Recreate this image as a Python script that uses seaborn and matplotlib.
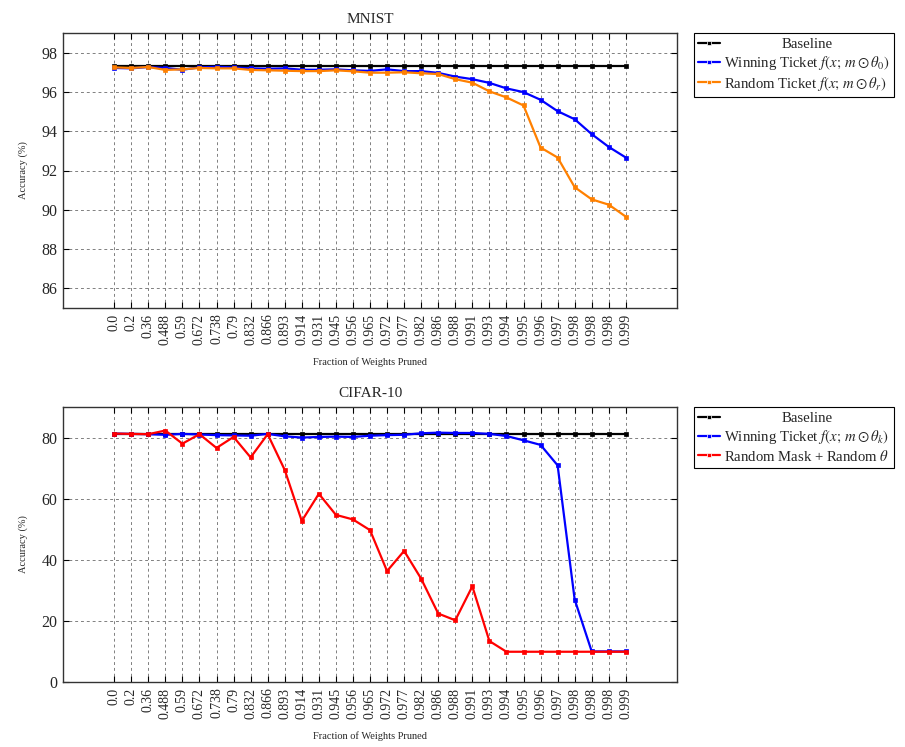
import numpy as np
import pandas as pd
import matplotlib
matplotlib.use("Agg")
import matplotlib.pyplot as plt
import seaborn as sns

# ---------------- data ----------------
fractions = ["0.0", "0.2", "0.36", "0.488", "0.59", "0.672", "0.738", "0.79", "0.832",
             "0.866", "0.893", "0.914", "0.931", "0.945", "0.956", "0.965", "0.972",
             "0.977", "0.982", "0.986", "0.988", "0.991", "0.993", "0.994", "0.995",
             "0.996", "0.997", "0.998", "0.998", "0.998", "0.999"]

mnist_baseline = [97.3] * 31
mnist_winning = [97.22, 97.20, 97.27, 97.22, 97.13, 97.25, 97.28, 97.25, 97.20, 97.18,
                 97.20, 97.13, 97.13, 97.15, 97.10, 97.07, 97.15, 97.06, 97.06, 96.97,
                 96.78, 96.65, 96.46, 96.18, 95.99, 95.60, 95.02, 94.61, 93.85, 93.20,
                 92.66]
mnist_random = [97.25, 97.22, 97.27, 97.12, 97.15, 97.22, 97.20, 97.20, 97.12, 97.10,
                97.08, 97.06, 97.06, 97.10, 97.05, 96.98, 96.98, 97.00, 96.95, 96.91,
                96.65, 96.47, 96.03, 95.72, 95.31, 93.17, 92.66, 91.15, 90.53, 90.26,
                89.65]

cifar_baseline = [81.2] * 31
cifar_winning = [81.3, 81.2, 81.1, 80.9, 81.2, 81.0, 80.8, 80.7, 80.6, 81.2,
                 80.4, 80.0, 80.2, 80.3, 80.2, 80.6, 80.8, 80.9, 81.4, 81.6,
                 81.5, 81.5, 81.2, 80.5, 79.1, 77.6, 70.9, 27.0, 10.0, 10.0, 10.0]
cifar_random = [81.3, 81.2, 81.1, 82.3, 78.0, 81.1, 76.6, 80.2, 73.5, 81.1,
                69.4, 52.7, 61.6, 54.7, 53.2, 49.7, 36.3, 42.9, 33.8, 22.4,
                20.2, 31.3, 13.4, 9.9, 9.9, 9.9, 9.9, 9.9, 9.9, 9.9, 9.9]

mnist_labels = ["Baseline",
                r"Winning Ticket $f(x;\,m\odot\theta_0)$",
                r"Random Ticket $f(x;\,m\odot\theta_r)$"]
cifar_labels = ["Baseline",
                r"Winning Ticket $f(x;\,m\odot\theta_k)$",
                r"Random Mask + Random $\theta$"]
mnist_colors = ["black", "#0000ff", "#ff8000"]
cifar_colors = ["black", "#0000ff", "#ff0000"]

# ---------------- style ----------------
sns.set_style("ticks")
plt.rcParams["font.family"] = ["Liberation Serif", "DejaVu Serif"]
plt.rcParams["mathtext.fontset"] = "stix"

fig = plt.figure(figsize=(9.05, 7.47), dpi=100)
ax1 = fig.add_axes([63 / 905, 1 - 308 / 747, 614 / 905, 275 / 747])
ax2 = fig.add_axes([63 / 905, 1 - 682 / 747, 614 / 905, 275 / 747])


def make_df(series, labels):
    rows = []
    for vals, lab in zip(series, labels):
        for i, v in enumerate(vals):
            rows.append({"pos": i, "acc": v, "series": lab})
    return pd.DataFrame(rows)


def draw(ax, df, labels, colors, title, ylim, yticks):
    sns.lineplot(data=df, x="pos", y="acc", hue="series", hue_order=labels,
                 palette=dict(zip(labels, colors)), marker="s", markersize=3.5,
                 markeredgewidth=0.5, linewidth=1.6, dashes=False, sort=False,
                 estimator=None, ax=ax)
    for ln, c in zip(ax.get_lines(), colors):
        ln.set_markeredgecolor(c)
    ax.set_xlim(-3, 33)
    ax.set_ylim(*ylim)
    ax.set_xticks(np.arange(len(fractions)))
    ax.set_xticklabels(fractions, rotation=90, fontsize=10)
    ax.set_yticks(yticks)
    ax.set_yticklabels([str(t) for t in yticks], fontsize=11.5)
    ax.tick_params(direction="in", top=True, right=True, length=4, width=0.8,
                   pad=4, color="black")
    ax.grid(True, linestyle=(0, (3, 3)), color="#808080", linewidth=0.7)
    ax.set_axisbelow(True)
    for sp in ax.spines.values():
        sp.set_visible(True)
        sp.set_color("#333333")
        sp.set_linewidth(1.0)
    ax.set_title(title, fontsize=11, pad=7)
    ax.set_xlabel("Fraction of Weights Pruned", fontsize=7.5, labelpad=9)
    ax.set_ylabel("Accuracy (%)", fontsize=7.5, labelpad=10)
    leg = ax.legend(loc="upper left", bbox_to_anchor=(1.027, 1.0), borderaxespad=0,
                    fontsize=10.6, frameon=True, fancybox=False, framealpha=1,
                    edgecolor="black", handlelength=1.5, handletextpad=0.3,
                    labelspacing=0.2, borderpad=0.3, title=None)
    leg.get_frame().set_linewidth(0.8)
    return leg


legs = []
legs.append(draw(ax1, make_df([mnist_baseline, mnist_winning, mnist_random], mnist_labels),
                 mnist_labels, mnist_colors, "MNIST", (85, 99), [86, 88, 90, 92, 94, 96, 98]))
legs.append(draw(ax2, make_df([cifar_baseline, cifar_winning, cifar_random], cifar_labels),
                 cifar_labels, cifar_colors, "CIFAR-10", (0, 90), [0, 20, 40, 60, 80]))

# center the "Baseline" entry text within the legend text column
fig.canvas.draw()
for leg in legs:
    texts = leg.get_texts()
    widths = [t.get_window_extent().width for t in texts]
    wmax = max(widths)
    dx = (wmax - widths[0]) / 2.0
    texts[0].set_position((dx, 0))

fig.savefig("out.png", dpi=100)
